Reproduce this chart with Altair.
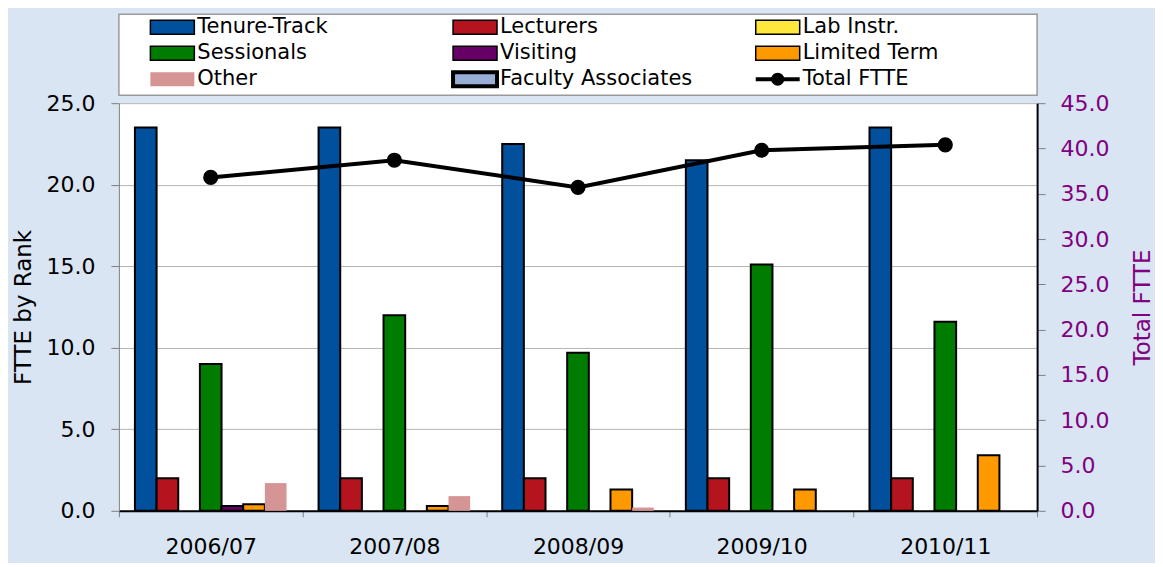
import altair as alt
import pandas as pd

FONT = "DejaVu Sans"

years = ["2006/07", "2007/08", "2008/09", "2009/10", "2010/11"]
bar_series = ["Tenure-Track", "Lecturers", "Lab Instr.", "Sessionals",
              "Visiting", "Limited Term", "Other"]
legend_names = ["Tenure-Track", "Lecturers", "Lab Instr.", "Sessionals",
                "Visiting", "Limited Term", "Other", "Faculty Associates",
                "Total FTTE"]
series_colors = ["#00509E", "#B5141E", "#FFE83C", "#007D00",
                 "#660066", "#FF9900", "#D49594", "#98AED6", "#000000"]

tenure_track = [23.5, 23.5, 22.5, 21.5, 23.5]
lecturers = [2.0, 2.0, 2.0, 2.0, 2.0]
lab_instr = [0.0, 0.0, 0.0, 0.0, 0.0]
sessionals = [9.0, 12.0, 9.7, 15.1, 11.6]
visiting = [0.3, 0.0, 0.0, 0.0, 0.0]
limited_term = [0.4, 0.3, 1.3, 1.3, 3.4]
other = [1.7, 0.9, 0.2, 0.0, 0.0]
faculty_associates = [0.0, 0.0, 0.0, 0.0, 0.0]
total_ftte = [36.8, 38.7, 35.7, 39.8, 40.4]

left_ticks = [0, 5, 10, 15, 20, 25]
right_ticks = [0, 5, 10, 15, 20, 25, 30, 35, 40, 45]

series_values = [tenure_track, lecturers, lab_instr, sessionals,
                 visiting, limited_term, other]
rows = []
for s, vals in zip(bar_series, series_values):
    for yr, v in zip(years, vals):
        rows.append({"year": yr, "series": s, "value": v})
bars_df = pd.DataFrame(rows)
line_df = pd.DataFrame({"year": years, "total": total_ftte})

leg_df = pd.DataFrame({
    "name": legend_names,
    "col": [i % 3 for i in range(len(legend_names))],
    "row": [i // 3 for i in range(len(legend_names))],
})

fill_scale = alt.Scale(domain=legend_names, range=series_colors)

x_enc = alt.X(
    "year:N", sort=years,
    scale=alt.Scale(domain=years, paddingInner=0, paddingOuter=0),
    axis=alt.Axis(title=None, labelFontSize=22, labelColor="black", labelAngle=0,
                  tickBand="extent", tickSize=6, tickColor="#808080",
                  domainColor="black", domainWidth=2, labelPadding=20, grid=False),
)

bars = alt.Chart(bars_df).transform_filter("datum.value > 0").mark_bar(
    stroke="black"
).encode(
    x=x_enc,
    xOffset=alt.XOffset("series:N", sort=bar_series,
                        scale=alt.Scale(domain=bar_series, paddingInner=0, paddingOuter=0.74)),
    y=alt.Y("value:Q",
            scale=alt.Scale(domain=[0, 25], nice=False, zero=True),
            axis=alt.Axis(title="FTTE by Rank", values=left_ticks, format=".1f",
                          labelFontSize=22, labelColor="black", labelPadding=16,
                          titleFontSize=23, titleColor="black", titleFontWeight="normal",
                          titlePadding=10, tickSize=8, tickColor="#808080",
                          domainColor="#808080", domainWidth=1,
                          grid=True, gridColor="#b4b4b4", gridWidth=1)),
    fill=alt.Fill("series:N", scale=fill_scale, legend=None),
    strokeWidth=alt.when(alt.datum.series == "Other").then(alt.value(0)).otherwise(alt.value(2)),
)

line = alt.Chart(line_df).mark_line(
    color="black", strokeWidth=4,
    point=alt.OverlayMarkDef(filled=True, color="black", size=230, opacity=1),
).encode(
    x=alt.X("year:N", sort=years),
    y=alt.Y("total:Q",
            scale=alt.Scale(domain=[0, 45], nice=False),
            axis=alt.Axis(orient="right", title="Total FTTE", values=right_ticks,
                          format=".1f", labelFontSize=22, labelColor="#800080",
                          labelPadding=15, titleFontSize=23, titleColor="#800080",
                          titleFontWeight="normal", titleAngle=270, titlePadding=46,
                          tickSize=8, tickColor="#808080", domainColor="black",
                          domainWidth=2, grid=False)),
)

main = alt.layer(bars, line).resolve_scale(y="independent").properties(
    width=919, height=408,
    view=alt.ViewBackground(fill="white", stroke=None),
)

legx = alt.X("col:Q", scale=alt.Scale(domain=[-0.1766, 2.857], nice=False, zero=False), axis=None)
legy = alt.Y("row:Q", scale=alt.Scale(domain=[-0.5, 2.615], nice=False, zero=False, reverse=True), axis=None)

leg_base = alt.Chart(leg_df)

box_stroke = (
    alt.when(alt.datum.name == "Other").then(alt.value(0))
    .when(alt.datum.name == "Faculty Associates").then(alt.value(4))
    .otherwise(alt.value(1.5))
)

leg_boxes = leg_base.transform_filter("datum.name != 'Total FTTE'").mark_point(
    shape="M-1,-0.32H1V0.32H-1Z", size=1936, filled=True, opacity=1, stroke="black"
).encode(
    x=legx, y=legy,
    fill=alt.Fill("name:N", scale=fill_scale, legend=None),
    strokeWidth=box_stroke,
)

leg_line = leg_base.transform_filter("datum.name == 'Total FTTE'").mark_point(
    shape="M-1,0H1", size=1936, filled=False, stroke="black", strokeWidth=4, opacity=1
).encode(x=legx, y=legy)

leg_dot = leg_base.transform_filter("datum.name == 'Total FTTE'").mark_point(
    shape="circle", size=170, filled=True, color="black", opacity=1
).encode(x=legx, y=legy)

leg_text = leg_base.mark_text(
    align="left", baseline="middle", dx=25, fontSize=21, font=FONT, color="black"
).encode(x=legx, y=legy, text="name:N")

legend_chart = alt.layer(leg_boxes, leg_line, leg_dot, leg_text).properties(
    width=919, height=81,
    view=alt.ViewBackground(fill="white", stroke="#9a9a9a", strokeWidth=1.5),
)

chart = alt.vconcat(legend_chart, main, spacing=-4).properties(
    padding={"left": 5, "top": 5, "right": 0, "bottom": 5},
).configure(
    background="#d9e5f3",
    font=FONT,
).configure_axis(
    labelFont=FONT, titleFont=FONT,
)

chart.save("out.html", embed_options={"renderer": "svg", "actions": False})
